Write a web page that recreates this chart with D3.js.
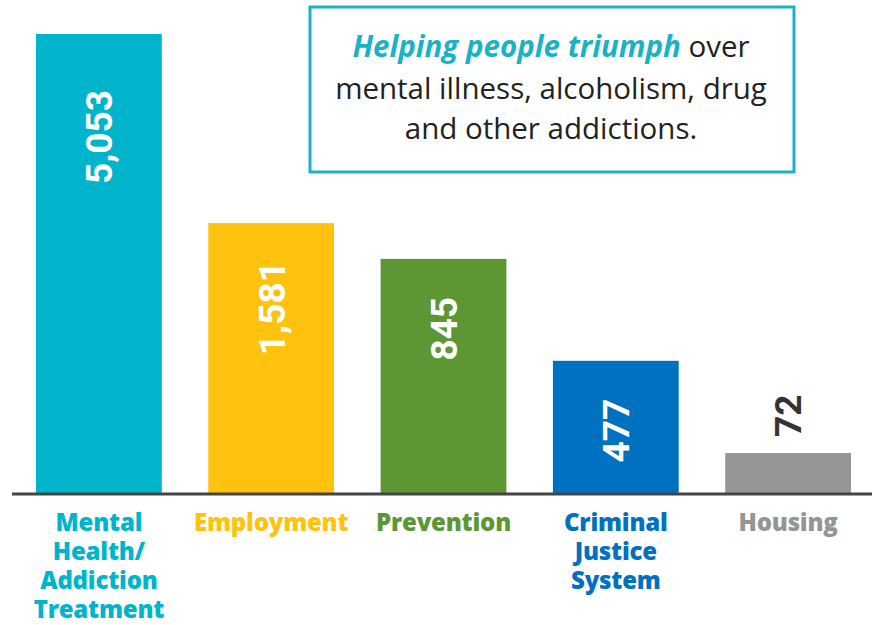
<!DOCTYPE html>
<html>
<head>
<meta charset="utf-8">
<script src="https://cdn.jsdelivr.net/npm/d3@7"></script>
<style>
  html, body { margin: 0; background: #fff; }
</style>
</head>
<body>
<script>
const categories = ['Mental\nHealth/\nAddiction\nTreatment', 'Employment', 'Prevention', 'Criminal\nJustice\nSystem', 'Housing'];
const values = [5053, 1581, 845, 477, 72];
const colors = ['#00b5cb', '#fec20f', '#5c9733', '#0070c0', '#959595'];
const headline = ['Helping people triumph', ' over', 'mental illness, alcoholism, drug', 'and other addictions.'];

const width = 872;
const height = 625;
const base = 493;
const plotTop = 34;

const svg = d3.select('body')
  .append('svg')
  .attr('width', width)
  .attr('height', height);

const x = d3.scaleBand()
  .domain(categories)
  .range([36, 851])
  .paddingInner(0.27)
  .paddingOuter(0);

// the infographic's bars aren't proportional, so use a stretched (piecewise) scale
const y = d3.scaleLinear()
  .domain([0, 72, 477, 845, 1581, 5053])
  .range([0, 0.087, 0.288, 0.51, 0.588, 1].map(f => base - f * (base - plotTop)));

const bars = svg.selectAll('g.bar')
  .data(values)
  .join('g')
  .attr('class', 'bar');

bars.append('rect')
  .attr('x', (d, i) => x(categories[i]))
  .attr('y', d => y(d))
  .attr('width', x.bandwidth())
  .attr('height', d => base - y(d))
  .attr('fill', (d, i) => colors[i]);

// value labels, rotated; short bars get the label above
bars.append('text')
  .attr('transform', (d, i) => {
    const cx = x(categories[i]) + x.bandwidth() / 2;
    const inside = base - y(d) > 60;
    const ty = inside ? y(d) + (i === 0 ? 56 : 38) : y(d) - 16;
    return `translate(${cx},${ty}) rotate(-90)`;
  })
  .attr('text-anchor', d => base - y(d) > 60 ? 'end' : 'start')
  .attr('dy', '0.36em')
  .attr('fill', d => base - y(d) > 60 ? '#fff' : '#333')
  .style('font-family', 'Roboto, sans-serif')
  .style('font-weight', 700)
  .style('font-size', '37px')
  .text(d => d3.format(',')(d));

// baseline
svg.append('line')
  .attr('x1', 12)
  .attr('x2', width)
  .attr('y1', base + 1)
  .attr('y2', base + 1)
  .attr('stroke', '#444')
  .attr('stroke-width', 3);

// category labels
categories.forEach((c, i) => {
  const t = svg.append('text')
    .attr('x', x(c) + x.bandwidth() / 2)
    .attr('y', 531)
    .attr('text-anchor', 'middle')
    .attr('fill', colors[i])
    .style('font-family', "'Open Sans', sans-serif")
    .style('font-weight', 800)
    .style('font-size', '24px')
    .style('letter-spacing', '-0.2px');
  c.split('\n').forEach((line, k) => {
    t.append('tspan')
      .attr('x', x(c) + x.bandwidth() / 2)
      .attr('dy', k === 0 ? 0 : 29)
      .text(line);
  });
});

// headline box
svg.append('rect')
  .attr('x', 310)
  .attr('y', 7)
  .attr('width', 484)
  .attr('height', 165)
  .attr('fill', '#fff')
  .attr('stroke', '#1ab3c6')
  .attr('stroke-width', 3);

const hx = 551;
const h1 = svg.append('text')
  .attr('x', hx)
  .attr('y', 57)
  .attr('text-anchor', 'middle')
  .style('font-family', "'Open Sans', sans-serif")
  .style('font-size', '29.5px')
  .attr('fill', '#222');
h1.append('tspan')
  .attr('fill', '#1ab3c6')
  .style('font-style', 'italic')
  .style('font-weight', 700)
  .text(headline[0]);
h1.append('tspan').text(headline[1]);

headline.slice(2).forEach((line, k) => {
  svg.append('text')
    .attr('x', hx)
    .attr('y', 99 + k * 40)
    .attr('text-anchor', 'middle')
    .style('font-family', "'Open Sans', sans-serif")
    .style('font-size', '29.5px')
    .attr('fill', '#222')
    .text(line);
});
</script>
</body>
</html>
